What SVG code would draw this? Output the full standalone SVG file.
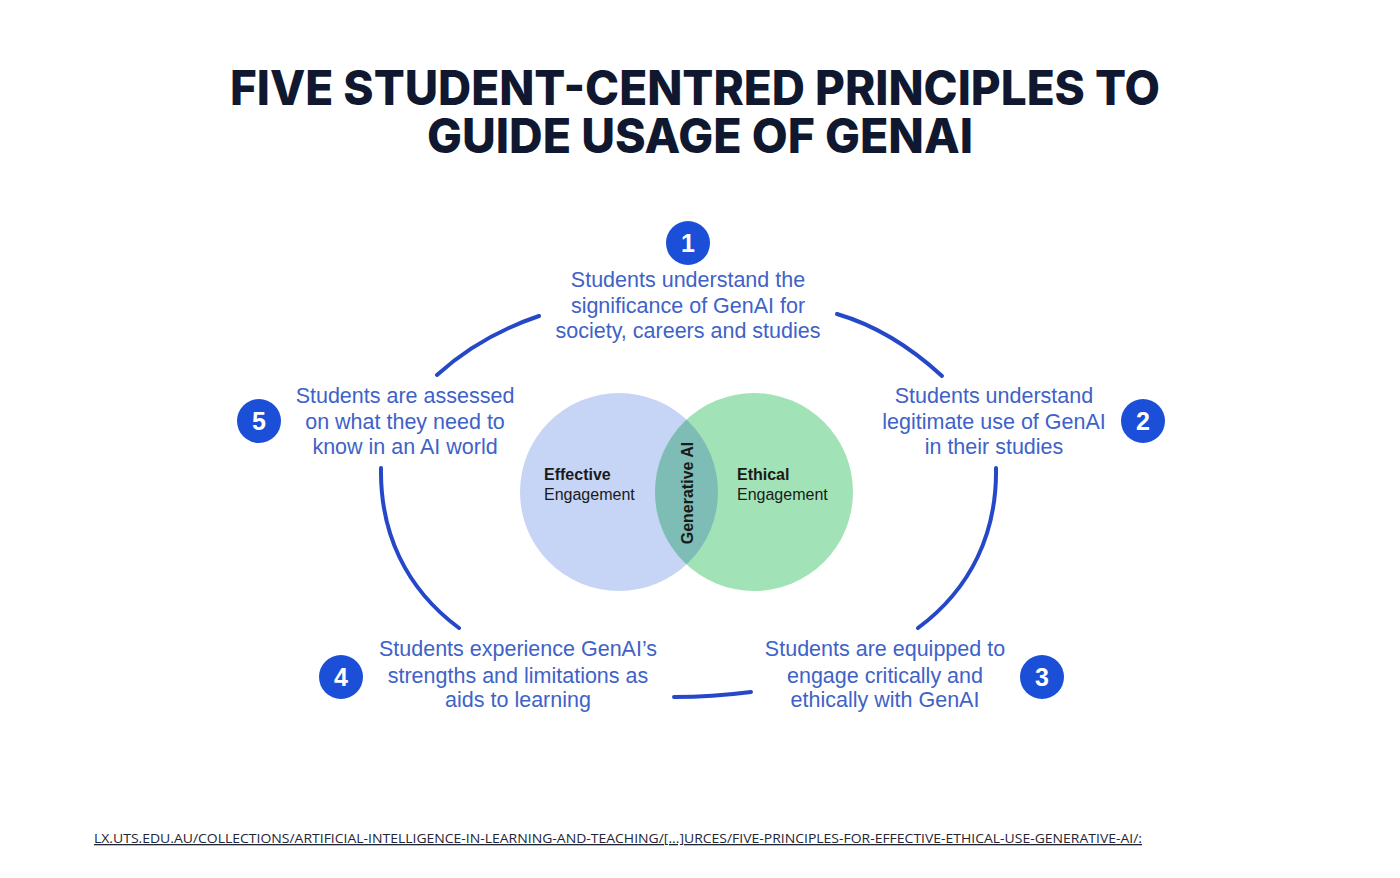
<svg xmlns="http://www.w3.org/2000/svg" width="1400" height="878" viewBox="0 0 1400 878">
  <style>
    .title { font-family: Inter, "Open Sans", "Liberation Sans", sans-serif; font-weight: 800; font-size: 48px; fill: #101830; text-anchor: middle; }
    .lbl { font-family: "Liberation Sans", Arial, sans-serif; font-size: 21.5px; fill: #4062c8; text-anchor: middle; }
    .num { fill: #1c4fd8; }
    .numt { font-family: "Liberation Sans", Arial, sans-serif; font-weight: bold; font-size: 25px; fill: #ffffff; text-anchor: middle; }
    .venn { font-family: "Liberation Sans", Arial, sans-serif; font-size: 16px; fill: #1a1a1a; }
    .b { font-weight: bold; }
    .arc { fill: none; stroke: #2548c8; stroke-width: 4; stroke-linecap: round; }
    .url { font-family: "Open Sans", "Liberation Sans", sans-serif; font-size: 13px; fill: #1f2535; text-decoration: underline; }
  </style>
  <defs>
    <clipPath id="clipLeft"><circle cx="619" cy="492" r="99"/></clipPath>
  </defs>
  <rect width="1400" height="878" fill="#ffffff"/>

  <g id="title">
    <text class="title" x="695" y="105" textLength="930" lengthAdjust="spacingAndGlyphs">FIVE STUDENT-CENTRED PRINCIPLES TO</text>
    <text class="title" x="700" y="153" textLength="546" lengthAdjust="spacingAndGlyphs">GUIDE USAGE OF GENAI</text>
  </g>

  <g id="connectors">
    <path class="arc" d="M437,375 Q480,336 539,316"/>
    <path class="arc" d="M837,314 Q892,330 942,376"/>
    <path class="arc" d="M381,468 C380,532 405,588 459,628"/>
    <path class="arc" d="M996,468 C997,532 972,588 918,628"/>
    <path class="arc" d="M674,697 Q712,697 751,692"/>
  </g>

  <g id="venn">
    <circle cx="619" cy="492" r="99" fill="#c6d4f5"/>
    <circle cx="754" cy="492" r="99" fill="#a1e3b6"/>
    <circle cx="754" cy="492" r="99" fill="#7dbdb6" clip-path="url(#clipLeft)"/>
    <text class="venn b" x="544" y="480">Effective</text>
    <text class="venn" x="544" y="500">Engagement</text>
    <text class="venn b" x="737" y="480">Ethical</text>
    <text class="venn" x="737" y="500">Engagement</text>
    <text class="venn b" x="0" y="0" text-anchor="middle" transform="translate(693,493) rotate(-90)">Generative AI</text>
  </g>

  <g id="p1">
    <circle class="num" cx="688" cy="243" r="22"/>
    <text class="numt" x="688" y="252">1</text>
    <text class="lbl" x="688" y="287">Students understand the</text>
    <text class="lbl" x="688" y="313">significance of GenAI for</text>
    <text class="lbl" x="688" y="338">society, careers and studies</text>
  </g>

  <g id="p2">
    <circle class="num" cx="1143" cy="421" r="22"/>
    <text class="numt" x="1143" y="430">2</text>
    <text class="lbl" x="994" y="403">Students understand</text>
    <text class="lbl" x="994" y="429">legitimate use of GenAI</text>
    <text class="lbl" x="994" y="454">in their studies</text>
  </g>

  <g id="p3">
    <circle class="num" cx="1042" cy="677" r="22"/>
    <text class="numt" x="1042" y="686">3</text>
    <text class="lbl" x="885" y="656">Students are equipped to</text>
    <text class="lbl" x="885" y="683">engage critically and</text>
    <text class="lbl" x="885" y="707">ethically with GenAI</text>
  </g>

  <g id="p4">
    <circle class="num" cx="341" cy="677" r="22"/>
    <text class="numt" x="341" y="686">4</text>
    <text class="lbl" x="518" y="656">Students experience GenAI’s</text>
    <text class="lbl" x="518" y="683">strengths and limitations as</text>
    <text class="lbl" x="518" y="707">aids to learning</text>
  </g>

  <g id="p5">
    <circle class="num" cx="259" cy="421" r="22"/>
    <text class="numt" x="259" y="430">5</text>
    <text class="lbl" x="405" y="403">Students are assessed</text>
    <text class="lbl" x="405" y="429">on what they need to</text>
    <text class="lbl" x="405" y="454">know in an AI world</text>
  </g>

  <g id="source">
    <text class="url" x="94" y="843" textLength="1048" lengthAdjust="spacingAndGlyphs">LX.UTS.EDU.AU/COLLECTIONS/ARTIFICIAL-INTELLIGENCE-IN-LEARNING-AND-TEACHING/[...]URCES/FIVE-PRINCIPLES-FOR-EFFECTIVE-ETHICAL-USE-GENERATIVE-AI/:</text>
  </g>
</svg>
